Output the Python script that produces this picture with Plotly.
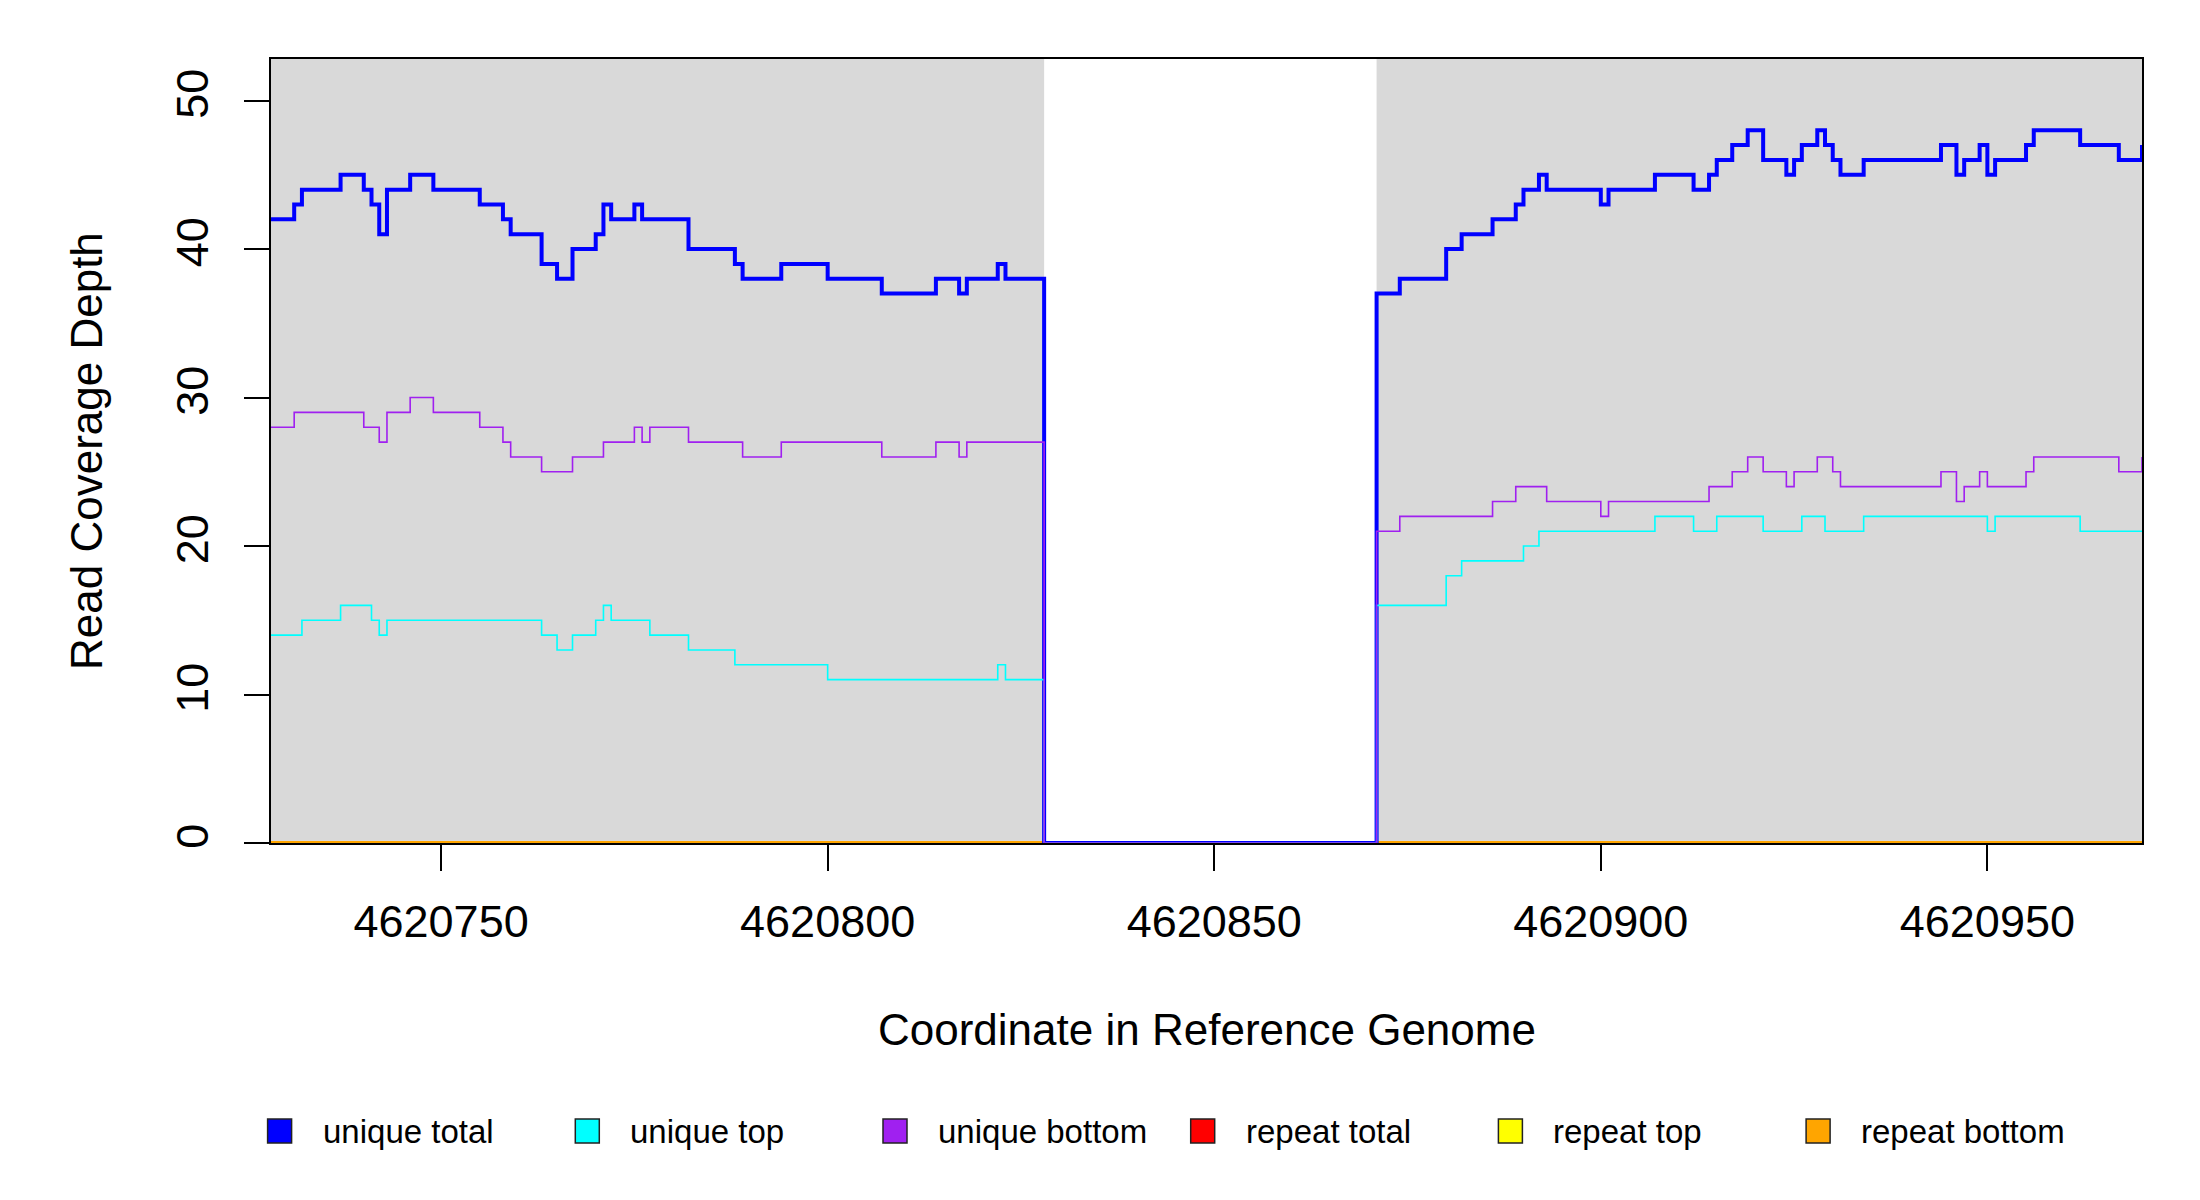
import plotly.graph_objects as go

# read coverage along the reference, step plot (value holds until next position)
BASE = 4620000

total_pos = [728, 731, 732, 737, 740, 741, 742, 743, 746, 749, 755, 758, 759, 763, 765, 767,
             770, 771, 772, 775, 776, 782, 788, 789, 794, 800, 807, 814, 817, 818, 822, 823,
             828, 871, 874, 880, 882, 886, 889, 890, 892, 893, 900, 901, 907, 912, 914, 915,
             917, 919, 921, 924, 925, 926, 928, 929, 930, 931, 934, 944, 946, 947, 949, 950,
             951, 955, 956, 962, 967, 970]
total_val = [42, 43, 44, 45, 44, 43, 41, 44, 45, 44, 43, 42, 41, 39, 38, 40,
             41, 43, 42, 43, 42, 40, 39, 38, 39, 38, 37, 38, 37, 38, 39, 38,
             0, 37, 38, 40, 41, 42, 43, 44, 45, 44, 43, 44, 45, 44, 45, 46,
             47, 48, 46, 45, 46, 47, 48, 47, 46, 45, 46, 47, 45, 46, 47, 45,
             46, 47, 48, 47, 46, 47]

top_pos = [728, 732, 737, 741, 742, 743, 763, 765, 767, 770, 771, 772, 777, 782, 788, 800,
           822, 823, 828, 871, 880, 882, 890, 892, 907, 912, 915, 921, 926, 929, 934, 950,
           951, 962, 970]
top_val = [14, 15, 16, 15, 14, 15, 14, 13, 14, 15, 16, 15, 14, 13, 12, 11,
           12, 11, 0, 16, 18, 19, 20, 21, 22, 21, 22, 21, 22, 21, 22, 21,
           22, 21, 21]

bottom_pos = [728, 731, 740, 742, 743, 746, 749, 755, 758, 759, 763, 767, 771, 775, 776, 777,
              782, 789, 794, 807, 814, 817, 818, 828, 871, 874, 886, 889, 893, 900, 901, 914,
              917, 919, 921, 924, 925, 928, 930, 931, 944, 946, 947, 949, 950, 955, 956, 967,
              970]
bottom_val = [28, 29, 28, 27, 29, 30, 29, 28, 27, 26, 25, 26, 27, 28, 27, 28,
              27, 26, 27, 26, 27, 26, 27, 0, 21, 22, 23, 24, 23, 22, 23, 24,
              25, 26, 25, 24, 25, 26, 25, 24, 25, 23, 24, 25, 24, 25, 26, 25,
              26]

repeat_pos = [728, 970]
repeat_total = [0, 0]
repeat_top = [0, 0]
repeat_bottom = [0, 0]

labels = ["unique total", "unique top", "unique bottom", "repeat total", "repeat top", "repeat bottom"]
colors = ["#0000FF", "#00FFFF", "#A020F0", "#FF0000", "#FFFF00", "#FFA500"]

x_ticks = [4620750, 4620800, 4620850, 4620900, 4620950]
y_ticks = [0, 10, 20, 30, 40, 50]

FONT = "Liberation Sans, Arial, sans-serif"

# page body has an 8px margin, so the figure is a bit smaller and shifted
OFF = 8
PL, PR, PT, PB = 271, 2142, 59, 843   # plot box in window pixels
W, H = 2200 - OFF, 1200 - OFF
ML, MR, MT, MB = PL - OFF, 2200 - PR, PT - OFF, 1200 - PB
PW, PH = PR - PL, PB - PT


def absx(pos):
    return [BASE + p for p in pos]


def px(xw):
    return (xw - PL) / PW


def py(yw):
    return (PB - yw) / PH


fig = go.Figure()

# grey background where there is coverage
runs = []
run_start = None
for p, v in zip(total_pos, total_val):
    if v > 0 and run_start is None:
        run_start = p
    elif v == 0 and run_start is not None:
        runs.append((run_start, p))
        run_start = None
if run_start is not None:
    runs.append((run_start, total_pos[-1]))

for a, b in runs:
    fig.add_shape(type="rect", xref="x", yref="paper", x0=BASE + a, x1=BASE + b, y0=0, y1=1,
                  fillcolor="#D9D9D9", line_width=0, layer="below")

series = [
    (repeat_pos, repeat_total, colors[3], 4),
    (repeat_pos, repeat_top, colors[4], 4),
    (repeat_pos, repeat_bottom, colors[5], 4),
    (total_pos, total_val, colors[0], 4),
    (top_pos, top_val, colors[1], 1.6),
    (bottom_pos, bottom_val, colors[2], 1.6),
]
for pos, val, col, lw in series:
    fig.add_trace(go.Scatter(x=absx(pos), y=val, mode="lines", line=dict(color=col, width=lw, shape="hv"),
                             showlegend=False, hoverinfo="skip"))

# legend drawn as boxes + labels in a row
leg_y = py(1131)
for i, (lab, col) in enumerate(zip(labels, colors)):
    cx = px(279.6 + i * 307.7)
    fig.add_shape(type="rect", xref="paper", yref="paper", xsizemode="pixel", ysizemode="pixel",
                  xanchor=cx, yanchor=leg_y, x0=-12, x1=12, y0=-12, y1=12,
                  fillcolor=col, line=dict(color="#222222", width=1.5))
    fig.add_annotation(text=lab, xref="paper", yref="paper", x=cx + 41 / PW, y=leg_y,
                       xanchor="left", yanchor="middle", showarrow=False,
                       font=dict(family=FONT, size=33, color="black"))

fig.add_annotation(text="Coordinate in Reference Genome", xref="paper", yref="paper",
                   x=0.5, y=py(1029), xanchor="center", yanchor="middle",
                   showarrow=False, font=dict(family=FONT, size=44, color="black"))
fig.add_annotation(text="Read Coverage Depth", xref="paper", yref="paper",
                   x=px(86), y=0.5, xanchor="center", yanchor="middle", textangle=-90,
                   showarrow=False, font=dict(family=FONT, size=44, color="black"))

fig.update_layout(
    width=W, height=H,
    margin=dict(l=ML, r=MR, t=MT, b=MB),
    plot_bgcolor="white", paper_bgcolor="white",
    showlegend=False,
    xaxis=dict(range=[BASE + total_pos[0], BASE + total_pos[-1]], showgrid=False, zeroline=False,
               tickvals=x_ticks, ticktext=[str(t) for t in x_ticks], ticks="outside", ticklen=26,
               tickwidth=1.5, tickcolor="black", ticklabelstandoff=12,
               tickfont=dict(family=FONT, size=45, color="black"),
               showline=True, linecolor="black", linewidth=1.5, mirror=True),
    yaxis=dict(range=[0, 52.8], showgrid=False, zeroline=False,
               tickvals=y_ticks, ticks="outside", ticklen=25, tickwidth=1.5, tickcolor="black",
               tickangle=-90, ticklabelstandoff=18,
               tickfont=dict(family=FONT, size=45, color="black"),
               showline=True, linecolor="black", linewidth=1.5, mirror=True),
)

fig.write_html("out.html")
